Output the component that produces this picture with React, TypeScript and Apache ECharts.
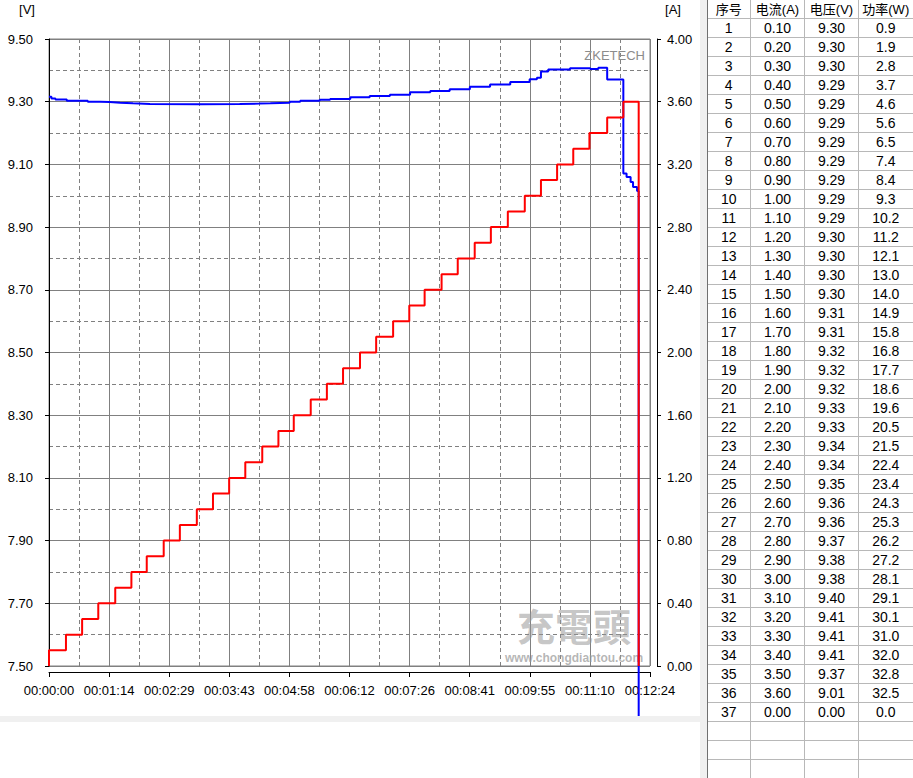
import React, { useEffect, useRef } from 'react';
import * as echarts from 'echarts';

// ---------- data ----------
const timeTickLabels = ['00:00:00', '00:01:14', '00:02:29', '00:03:43', '00:04:58', '00:06:12', '00:07:26', '00:08:41', '00:09:55', '00:11:10', '00:12:24'];
const voltTickLabels = ['7.50', '7.70', '7.90', '8.10', '8.30', '8.50', '8.70', '8.90', '9.10', '9.30', '9.50'];
const ampTickLabels = ['0.00', '0.40', '0.80', '1.20', '1.60', '2.00', '2.40', '2.80', '3.20', '3.60', '4.00'];

// current steps: start time (s) and current (A)
const stepTimes = [0, 21, 41, 61, 82, 102, 121, 142, 162, 183, 203, 223, 243, 264, 284, 303, 324, 344, 364, 385, 405, 426, 446, 465, 486, 506, 527, 547, 568, 589, 609, 629, 649, 669, 691, 711];
const stepCurrents = [0.1, 0.2, 0.3, 0.4, 0.5, 0.6, 0.7, 0.8, 0.9, 1.0, 1.1, 1.2, 1.3, 1.4, 1.5, 1.6, 1.7, 1.8, 1.9, 2.0, 2.1, 2.2, 2.3, 2.4, 2.5, 2.6, 2.7, 2.8, 2.9, 3.0, 3.1, 3.2, 3.3, 3.4, 3.5, 3.6];
const endTime = 730;

// voltage trace readings: time (s) and voltage (V)
const voltTimes = [0, 3, 8, 22, 48, 63, 75, 88, 104, 125, 187, 236, 261, 274, 298, 311, 335, 348, 373, 397, 422, 447, 472, 496, 521, 546, 571, 595, 604, 609, 618, 645, 670, 680, 691, 711, 715, 720, 723, 728, 730];
const voltValues = [9.316, 9.31, 9.307, 9.303, 9.3, 9.299, 9.297, 9.295, 9.293, 9.292, 9.293, 9.294, 9.295, 9.297, 9.3, 9.303, 9.306, 9.309, 9.314, 9.318, 9.322, 9.33, 9.334, 9.34, 9.348, 9.355, 9.363, 9.372, 9.376, 9.396, 9.403, 9.407, 9.404, 9.408, 9.371, 9.071, 9.06, 9.044, 9.028, 9.015, 0];

// table
const tableHeaders = ['序号', '电流(A)', '电压(V)', '功率(W)'];
const tableIndex = ['1', '2', '3', '4', '5', '6', '7', '8', '9', '10', '11', '12', '13', '14', '15', '16', '17', '18', '19', '20', '21', '22', '23', '24', '25', '26', '27', '28', '29', '30', '31', '32', '33', '34', '35', '36', '37'];
const tableCurrent = ['0.10', '0.20', '0.30', '0.40', '0.50', '0.60', '0.70', '0.80', '0.90', '1.00', '1.10', '1.20', '1.30', '1.40', '1.50', '1.60', '1.70', '1.80', '1.90', '2.00', '2.10', '2.20', '2.30', '2.40', '2.50', '2.60', '2.70', '2.80', '2.90', '3.00', '3.10', '3.20', '3.30', '3.40', '3.50', '3.60', '0.00'];
const tableVoltage = ['9.30', '9.30', '9.30', '9.29', '9.29', '9.29', '9.29', '9.29', '9.29', '9.29', '9.29', '9.30', '9.30', '9.30', '9.30', '9.31', '9.31', '9.32', '9.32', '9.32', '9.33', '9.33', '9.34', '9.34', '9.35', '9.36', '9.36', '9.37', '9.38', '9.38', '9.40', '9.41', '9.41', '9.41', '9.37', '9.01', '0.00'];
const tablePower = ['0.9', '1.9', '2.8', '3.7', '4.6', '5.6', '6.5', '7.4', '8.4', '9.3', '10.2', '11.2', '12.1', '13.0', '14.0', '14.9', '15.8', '16.8', '17.7', '18.6', '19.6', '20.5', '21.5', '22.4', '23.4', '24.3', '25.3', '26.2', '27.2', '28.1', '29.1', '30.1', '31.0', '32.0', '32.8', '32.5', '0.0'];

// ---------- layout ----------
const W = 913;
const H = 778;
const FONT = "'Liberation Sans Narrow', 'Arial Narrow', 'Liberation Sans', 'Noto Sans CJK SC', sans-serif";
const colEdges = [707, 750.5, 804.5, 858.5, 913];
const headerH = 18;
const rowH = 19;

function buildTable(): any[] {
  const els: any[] = [];
  els.push({ type: 'rect', z: 100, shape: { x: 0, y: 716, width: 700, height: 6 }, style: { fill: '#f0f0f0' } });
  els.push({ type: 'rect', z: 100, shape: { x: 0, y: 722, width: 700, height: H - 722 }, style: { fill: '#ffffff' } });
  els.push({ type: 'rect', z: 100, shape: { x: 700, y: 0, width: 7, height: H }, style: { fill: '#f0f0f0' } });
  els.push({ type: 'rect', z: 100, shape: { x: 707, y: 0, width: W - 707, height: H }, style: { fill: '#ffffff' } });
  for (let y = headerH; y <= H; y += rowH) {
    els.push({ type: 'line', z: 101, shape: { x1: colEdges[0], y1: y + 0.5, x2: W, y2: y + 0.5 }, style: { stroke: '#b8b8b8', lineWidth: 1 } });
  }
  for (let i = 1; i < colEdges.length - 1; i++) {
    els.push({ type: 'line', z: 101, shape: { x1: colEdges[i], y1: 0, x2: colEdges[i], y2: H }, style: { stroke: '#b8b8b8', lineWidth: 1 } });
  }
  els.push({ type: 'line', z: 101, shape: { x1: 707.5, y1: 0, x2: 707.5, y2: H }, style: { stroke: '#707070', lineWidth: 1 } });
  const centers = colEdges.slice(0, 4).map((e, i) => (e + colEdges[i + 1]) / 2);
  tableHeaders.forEach((h, i) => {
    els.push({ type: 'text', z: 102, x: centers[i], y: headerH / 2 + 0.5, style: { text: h, fill: '#000', font: `13px ${FONT}`, align: 'center', verticalAlign: 'middle' } });
  });
  const cols = [tableIndex, tableCurrent, tableVoltage, tablePower];
  for (let r = 0; r < tableIndex.length; r++) {
    const cy = headerH + rowH * r + rowH / 2 + 0.5;
    cols.forEach((col, c) => {
      els.push({ type: 'text', z: 102, x: centers[c], y: cy, style: { text: col[r], fill: '#000', font: `14px ${FONT}`, align: 'center', verticalAlign: 'middle' } });
    });
  }
  return els;
}

export default function App() {
  const ref = useRef<HTMLDivElement>(null);
  useEffect(() => {
    document.body.style.margin = '0';
    document.body.style.overflow = 'hidden';
    const chart = echarts.init(ref.current!, null, { renderer: 'svg' });
    const currentData: number[][] = [[0, 0]];
    stepTimes.forEach((t, i) => currentData.push([t, stepCurrents[i]]));
    currentData.push([endTime, 0]);
    const voltData = voltTimes.map((t, i) => [t, voltValues[i]]);

    const axisLabelBase = { color: '#000', fontSize: 13, fontFamily: FONT };
    const gridLine = { show: true, lineStyle: { color: '#808080', width: 1 } };
    const minorLine = { show: true, lineStyle: { color: '#808080', width: 1, type: [4, 3] } };

    chart.setOption({
      animation: false,
      backgroundColor: '#ffffff',
      textStyle: { fontFamily: FONT },
      grid: { left: 49, top: 39, width: 601, height: 627, show: true, borderColor: '#808080', borderWidth: 1, backgroundColor: 'transparent' },
      xAxis: {
        type: 'value', min: 0, max: 744, interval: 74.4, offset: 6,
        axisLine: { show: true, onZero: false, lineStyle: { color: '#000', width: 1 } },
        axisTick: { show: true, length: 5, lineStyle: { color: '#000' } },
        axisLabel: { ...axisLabelBase, margin: 12, formatter: (v: number) => timeTickLabels[Math.round(v / 74.4)] ?? '' },
        splitLine: gridLine,
        minorTick: { show: false, splitNumber: 2 },
        minorSplitLine: minorLine,
      },
      yAxis: [
        {
          type: 'value', min: 0, max: 2, interval: 0.2, position: 'left', offset: 6,
          axisLine: { show: true, lineStyle: { color: '#000', width: 1 } },
          axisTick: { show: true, length: 4, lineStyle: { color: '#000' } },
          axisLabel: { ...axisLabelBase, margin: 10, formatter: (v: number) => voltTickLabels[Math.round(v / 0.2)] ?? '' },
          splitLine: gridLine,
          minorTick: { show: false, splitNumber: 2 },
          minorSplitLine: minorLine,
        },
        {
          type: 'value', min: 0, max: 4, interval: 0.4, position: 'right', offset: 7,
          axisLine: { show: true, lineStyle: { color: '#000', width: 1 } },
          axisTick: { show: true, length: 4, lineStyle: { color: '#000' } },
          axisLabel: { ...axisLabelBase, margin: 10, formatter: (v: number) => ampTickLabels[Math.round(v / 0.4)] ?? '' },
          splitLine: { show: false },
        },
        { type: 'value', min: 7.5, max: 9.5, position: 'left', show: false, splitLine: { show: false } },
      ],
      series: [
        {
          type: 'line', name: '电压', yAxisIndex: 2, data: voltData, step: 'end', symbol: 'none', clip: false,
          lineStyle: { color: '#0000ff', width: 2 }, z: 3, silent: true,
        },
        {
          type: 'line', name: '电流', yAxisIndex: 1, data: currentData, step: 'end', symbol: 'none', clip: true,
          lineStyle: { color: '#ff0000', width: 2 }, z: 4, silent: true,
        },
      ],
      graphic: [
        { type: 'text', z: 1, x: 27, y: 9, style: { text: '[V]', fill: '#000', font: `13px ${FONT}`, align: 'center', verticalAlign: 'middle' } },
        { type: 'text', z: 1, x: 673, y: 9, style: { text: '[A]', fill: '#000', font: `13px ${FONT}`, align: 'center', verticalAlign: 'middle' } },
        { type: 'text', z: 1, x: 645, y: 55, style: { text: 'ZKETECH', fill: '#8c8c8c', font: `13px ${FONT}`, align: 'right', verticalAlign: 'middle' } },
        { type: 'text', z: 1, x: 574, y: 624, style: { text: '充電頭', fill: 'rgba(150,150,150,0.55)', font: `bold 38px 'Noto Sans CJK TC', sans-serif`, align: 'center', verticalAlign: 'middle' } },
        { type: 'text', z: 1, x: 574, y: 658, style: { text: 'www.chongdiantou.com', fill: 'rgba(150,150,150,0.7)', font: `bold 12px 'Liberation Sans', sans-serif`, align: 'center', verticalAlign: 'middle' } },
        ...buildTable(),
      ],
    });
    return () => chart.dispose();
  }, []);
  return <div ref={ref} style={{ position: 'absolute', left: 0, top: 0, width: W, height: H }} />;
}
